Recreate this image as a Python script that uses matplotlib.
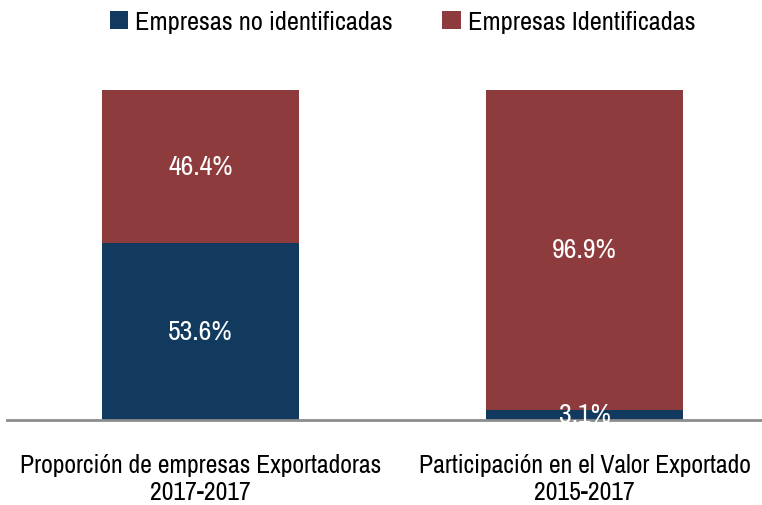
import matplotlib
matplotlib.use("Agg")
import matplotlib.pyplot as plt
from matplotlib.font_manager import fontManager

categories = ["Proporción de empresas Exportadoras\n2017-2017",
              "Participación en el Valor Exportado\n2015-2017"]
no_identificadas = [53.6, 3.1]
identificadas = [46.4, 96.9]
series_names = ["Empresas no identificadas", "Empresas Identificadas"]

names = {f.name for f in fontManager.ttflist}
font = "Archivo Narrow" if "Archivo Narrow" in names else "DejaVu Sans"
plt.rcParams["font.family"] = [font, "DejaVu Sans"]

blue = "#113a5e"
red = "#8e3b3e"

fig = plt.figure(figsize=(7.62, 5.06), dpi=100)
ax = fig.add_axes([7 / 762, 85 / 506, 1 - 7 / 762, 330 / 506])

x = range(len(categories))
b1 = ax.bar(x, no_identificadas, width=0.513, color=blue, label=series_names[0])
b2 = ax.bar(x, identificadas, width=0.513, bottom=no_identificadas, color=red, label=series_names[1])

# value labels centred in each segment
for bars, vals in [(b1, no_identificadas), (b2, identificadas)]:
    for rect, v in zip(bars, vals):
        ax.text(rect.get_x() + rect.get_width() / 2, rect.get_y() + rect.get_height() / 2,
                f"{v:.1f}%", ha="center", va="center", color="white", fontsize=20)

ax.set_xlim(-0.504, 1.462)
ax.set_ylim(0, 100)
ax.set_yticks([])
ax.set_xticks(list(x))
ax.set_xticklabels(categories, fontsize=18.5, linespacing=1.2)
ax.tick_params(axis="x", length=0, pad=24)
for s in ["top", "right", "left"]:
    ax.spines[s].set_visible(False)
ax.spines["bottom"].set_color("#8c8c8c")
ax.spines["bottom"].set_linewidth(2)

fig.legend(handles=[b1, b2], loc="upper center", bbox_to_anchor=(0.528, 1.025), ncol=2,
           frameon=False, fontsize=19, handlelength=0.7, handleheight=0.7,
           handletextpad=0.25, columnspacing=1.9)

fig.savefig("out.png", dpi=100)
